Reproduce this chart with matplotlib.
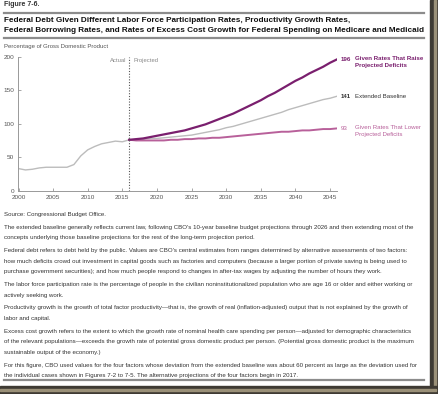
import matplotlib
matplotlib.use("Agg")
import matplotlib.pyplot as plt
from matplotlib.patches import Rectangle

# historical debt held by the public, % of GDP
histYears = list(range(2000, 2017))
histDebt = [33, 31, 32, 34, 35, 35, 35, 35, 39, 52, 61, 66, 70, 72, 74, 73, 76]

projYears = list(range(2016, 2047))
baseline = [76, 76, 77, 78, 78, 79, 80, 81, 82, 83, 85, 87, 89, 91, 94, 96, 99, 102,
            105, 108, 111, 114, 117, 121, 124, 127, 130, 133, 136, 138, 141]
raiseDef = [76, 77, 78, 80, 82, 84, 86, 88, 90, 93, 96, 99, 103, 107, 111, 115, 120,
            125, 130, 135, 141, 146, 152, 158, 164, 169, 175, 180, 185, 191, 196]
lowerDef = [76, 75, 75, 75, 75, 75, 76, 76, 77, 77, 78, 78, 79, 79, 80, 81, 82, 83,
            84, 85, 86, 87, 88, 88, 89, 90, 90, 91, 92, 92, 93]

xticks = list(range(2000, 2046, 5))
yticks = [0, 50, 100, 150, 200]

title1 = "Federal Debt Given Different Labor Force Participation Rates, Productivity Growth Rates,"
title2 = "Federal Borrowing Rates, and Rates of Excess Cost Growth for Federal Spending on Medicare and Medicaid"
notes = [
    "Source: Congressional Budget Office.",
    None,
    "The extended baseline generally reflects current law, following CBO's 10-year baseline budget projections through 2026 and then extending most of the",
    "concepts underlying those baseline projections for the rest of the long-term projection period.",
    None,
    "Federal debt refers to debt held by the public. Values are CBO's central estimates from ranges determined by alternative assessments of two factors:",
    "how much deficits crowd out investment in capital goods such as factories and computers (because a larger portion of private saving is being used to",
    "purchase government securities); and how much people respond to changes in after-tax wages by adjusting the number of hours they work.",
    None,
    "The labor force participation rate is the percentage of people in the civilian noninstitutionalized population who are age 16 or older and either working or",
    "actively seeking work.",
    None,
    "Productivity growth is the growth of total factor productivity\u2014that is, the growth of real (inflation-adjusted) output that is not explained by the growth of",
    "labor and capital.",
    None,
    "Excess cost growth refers to the extent to which the growth rate of nominal health care spending per person\u2014adjusted for demographic characteristics",
    "of the relevant populations\u2014exceeds the growth rate of potential gross domestic product per person. (Potential gross domestic product is the maximum",
    "sustainable output of the economy.)",
    None,
    "For this figure, CBO used values for the four factors whose deviation from the extended baseline was about 60 percent as large as the deviation used for",
    "the individual cases shown in Figures 7-2 to 7-5. The alternative projections of the four factors begin in 2017.",
]

W, H = 439, 394
purple = '#7a1f6e'
pink = '#b8609a'
grey = '#bcbcbc'
font = ['Liberation Sans', 'DejaVu Sans']

def fx(px):
    return px / W

def fy(py):
    return 1 - py / H

fig = plt.figure(figsize=(W / 100, H / 100), dpi=100)
fig.patch.set_facecolor('white')
renderer = fig.canvas.get_renderer()

def fit_size(texts, size, target, **kw):
    # shrink font so the widest line spans target pixels
    widest = 0
    for t in texts:
        tt = fig.text(0, 0, t, fontsize=size, family=font, **kw)
        widest = max(widest, tt.get_window_extent(renderer).width)
        tt.remove()
    return size * target / widest

# page frame shadow on right and bottom
fig.add_artist(Rectangle((fx(430), 0), fx(9), 1, transform=fig.transFigure, color='#3e3a33', zorder=0))
fig.add_artist(Rectangle((fx(434), 0), fx(2), 1, transform=fig.transFigure, color='#9a9078', zorder=0))
fig.add_artist(Rectangle((0, 0), 1, fy(386), transform=fig.transFigure, color='#3e3a33', zorder=0))
fig.add_artist(Rectangle((0, fy(391)), fx(436), fy(389) - fy(391), transform=fig.transFigure, color='#9a9078', zorder=0))

# header
fig.text(fx(4), fy(5), "Figure 7-6.", fontsize=5.0, fontweight='bold', color='#333333',
         family=font, va='center')
for py in [12.7, 38.3, 380]:
    fig.add_artist(plt.Line2D([fx(4), fx(424)], [fy(py), fy(py)], transform=fig.transFigure,
                              color='#8c8c8c', lw=1.6))
tsize = fit_size([title2], 8, 419, fontweight='bold')
fig.text(fx(4), fy(20.7), title1, fontsize=tsize, fontweight='bold', color='#111111', family=font, va='center')
fig.text(fx(4), fy(30.7), title2, fontsize=tsize, fontweight='bold', color='#111111', family=font, va='center')
fig.text(fx(4), fy(46.7), "Percentage of Gross Domestic Product", fontsize=4.3, color='#555555',
         family=font, va='center')

# chart
ax = fig.add_axes([fx(18.5), fy(190.7), fx(337) - fx(18.5), fy(56.7) - fy(190.7)])
ax.plot(histYears, histDebt, color=grey, lw=1.0)
ax.plot(projYears, baseline, color=grey, lw=1.0)
ax.plot(projYears, lowerDef, color=pink, lw=1.4)
ax.plot(projYears, raiseDef, color=purple, lw=1.6)
ax.axvline(2016, color='#555555', lw=0.8, ls=(0, (1, 1.5)))
ax.text(2015.6, 195, "Actual", fontsize=4.2, color='#888888', ha='right', va='center', family=font)
ax.text(2016.6, 195, "Projected", fontsize=4.2, color='#888888', ha='left', va='center', family=font)

ax.set_xlim(2000, 2046)
ax.set_ylim(0, 200)
ax.set_xticks(xticks)
ax.set_yticks(yticks)
ax.tick_params(direction='in', length=2, width=0.6, colors='#999999', labelsize=4.6,
               labelcolor='#555555', pad=3)
for s in ['top', 'right']:
    ax.spines[s].set_visible(False)
for s in ['left', 'bottom']:
    ax.spines[s].set_color('#999999')
    ax.spines[s].set_linewidth(0.7)
for lab in ax.get_xticklabels() + ax.get_yticklabels():
    lab.set_family(font)

# end labels
lsize = 4.4
ax.annotate(str(raiseDef[-1]), (projYears[-1], raiseDef[-1]), xytext=(3, 0), textcoords='offset points',
            fontsize=lsize, fontweight='bold', color=purple, va='center', family=font, annotation_clip=False)
ax.annotate("Given Rates That Raise\nProjected Deficits", (projYears[-1], raiseDef[-1]), xytext=(13, 2.2),
            textcoords='offset points', fontsize=lsize, fontweight='bold', color=purple, va='top',
            family=font, annotation_clip=False, linespacing=1.3)
ax.annotate(str(baseline[-1]), (projYears[-1], baseline[-1]), xytext=(3, 0), textcoords='offset points',
            fontsize=lsize, fontweight='bold', color='#333333', va='center', family=font, annotation_clip=False)
ax.annotate("Extended Baseline", (projYears[-1], baseline[-1]), xytext=(13, 0), textcoords='offset points',
            fontsize=lsize, color='#333333', va='center', family=font, annotation_clip=False)
ax.annotate(str(lowerDef[-1]), (projYears[-1], lowerDef[-1]), xytext=(3, 0), textcoords='offset points',
            fontsize=lsize, color=pink, va='center', family=font, annotation_clip=False)
ax.annotate("Given Rates That Lower\nProjected Deficits", (projYears[-1], lowerDef[-1]), xytext=(13, 2.2),
            textcoords='offset points', fontsize=lsize, color=pink, va='top',
            family=font, annotation_clip=False, linespacing=1.3)

# notes
nsize = fit_size([n for n in notes if n], 5, 419)
py = 214.3
for line in notes:
    if line is None:
        py += 2.2
        continue
    fig.text(fx(4), fy(py), line, fontsize=nsize, color='#333333', family=font, va='center')
    py += 10.6

fig.savefig('out.png', dpi=100)
